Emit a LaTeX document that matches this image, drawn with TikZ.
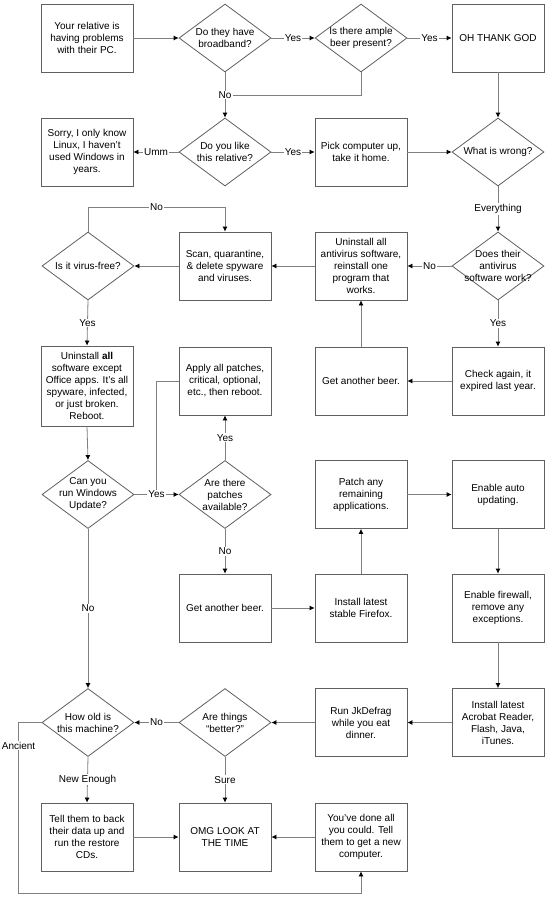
\documentclass[tikz,border=0pt]{standalone}
\usepackage{fontspec}
\setmainfont{Liberation Sans}
\usetikzlibrary{shapes.geometric,arrows.meta}
\definecolor{boxc}{RGB}{96,96,96}
\definecolor{linec}{RGB}{128,128,128}
\begin{document}
\begin{tikzpicture}[x=1pt,y=-1pt,
 every node/.style={font=\fontsize{10}{12}\selectfont},
 proc/.style={draw=boxc,line width=0.8pt,minimum width=92pt,minimum height=68pt,inner sep=0pt,align=center,fill=white},
 dec/.style={draw=boxc,line width=0.8pt,diamond,minimum width=92pt,minimum height=68pt,inner sep=0pt,fill=white},
 txt/.style={align=center,inner sep=0pt},
 conn/.style={draw=linec,line width=0.8pt,-{Latex[length=5pt,width=5pt,color=black]}},
 plain/.style={draw=linec,line width=0.8pt},
 lbl/.style={fill=white,inner sep=1pt}]
\fill[white] (0,0) rectangle (550,900);
\useasboundingbox (0,0) rectangle (550,900);
% row 1
\node[proc] (start) at (87,38) {Your relative is\\having problems\\with their PC.};
\node[dec,label={[txt]center:{Do they have\\broadband?}}] (bb) at (225,38) {};
\node[dec,label={[txt]center:{Is there ample\\beer present?}}] (beer) at (361,38) {};
\node[proc] (thank) at (498,38) {OH THANK GOD};
% row 2
\node[proc] (sorry) at (87,152) {Sorry, I only know\\Linux, I haven't\\used Windows in\\years.};
\node[dec,label={[txt]center:{Do you like\\this relative?}}] (like) at (225,152) {};
\node[proc] (pick) at (361,152) {Pick computer up,\\take it home.};
\node[dec,label={[txt]center:{What is wrong?}}] (wrong) at (498,152) {};
% row 3
\node[dec,label={[txt]center:{Is it virus-free?}}] (virus) at (88,266) {};
\node[proc] (scan) at (225,266) {Scan, quarantine,\\\& delete spyware\\and viruses.};
\node[proc] (uav) at (361,266) {Uninstall all\\antivirus software,\\reinstall one\\program that\\works.};
\node[dec,label={[txt]center:{Does their\\antivirus\\software work?}}] (av) at (498,266) {};
% row 4
\node[proc,minimum height=80pt] (unall) at (87,386) {Uninstall \textbf{all}\\software except\\Office apps. It's all\\spyware, infected,\\or just broken.\\Reboot.};
\node[proc] (apply) at (225,381) {Apply all patches,\\critical, optional,\\etc., then reboot.};
\node[proc] (beera) at (361,381) {Get another beer.};
\node[proc] (check) at (498,381) {Check again, it\\expired last year.};
% row 5
\node[dec,label={[txt]center:{Can you\\run Windows\\Update?}}] (canrun) at (88,494.5) {};
\node[dec,label={[txt]center:{Are there\\patches\\available?}}] (patches) at (225,494.5) {};
\node[proc] (patchany) at (361,494.5) {Patch any\\remaining\\applications.};
\node[proc] (autoupd) at (498,494.5) {Enable auto\\updating.};
% row 6
\node[proc] (beerb) at (225,608) {Get another beer.};
\node[proc] (firefox) at (361,608) {Install latest\\stable Firefox.};
\node[proc] (firewall) at (498,608) {Enable firewall,\\remove any\\exceptions.};
% row 7
\node[dec,label={[txt]center:{How old is\\this machine?}}] (howold) at (88,722.5) {};
\node[dec,label={[txt]center:{Are things\\``better?''}}] (better) at (225,722.5) {};
\node[proc] (defrag) at (361,722.5) {Run JkDefrag\\while you eat\\dinner.};
\node[proc] (acrobat) at (498,722.5) {Install latest\\Acrobat Reader,\\Flash, Java,\\iTunes.};
% row 8
\node[proc] (tell) at (87,837) {Tell them to back\\their data up and\\run the restore\\CDs.};
\node[proc] (omg) at (225,837) {OMG LOOK AT\\THE TIME};
\node[proc] (done) at (361,837) {You've done all\\you could. Tell\\them to get a new\\computer.};
% connectors
\draw[conn] (start.east) -- (bb.west);
\draw[conn] (bb.east) -- node[lbl]{Yes} (beer.west);
\draw[conn] (beer.east) -- node[lbl]{Yes} (thank.west);
\draw[conn] (bb.south) -- node[lbl] (nolbl) {No} (like.north);
\draw[plain] (beer.south) |- (nolbl.east);
\draw[conn] (like.west) -- node[lbl]{Umm} (sorry.east);
\draw[conn] (like.east) -- node[lbl]{Yes} (pick.west);
\draw[conn] (pick.east) -- (wrong.west);
\draw[conn] (thank.south) -- (wrong.north);
\draw[conn] (wrong.south) -- node[lbl]{Everything} (av.north);
\draw[conn] (av.west) -- node[lbl]{No} (uav.east);
\draw[conn] (av.south) -- node[lbl]{Yes} (check.north);
\draw[conn] (check.west) -- (beera.east);
\draw[conn] (beera.north) -- (uav.south);
\draw[conn] (uav.west) -- (scan.east);
\draw[conn] (scan.west) -- (virus.east);
\draw[conn] (virus.north) -- ++(0,-24) -| node[lbl,pos=0.25]{No} (scan.north);
\draw[conn] (virus.south) -- node[lbl]{Yes} (unall.north);
\draw[conn] (unall.south) -- (canrun.north);
\draw[conn] (canrun.east) -- node[lbl] (yes2) {Yes} (patches.west);
\draw[plain] (apply.west) -| (yes2.north);
\draw[conn] (patches.north) -- node[lbl]{Yes} (apply.south);
\draw[conn] (patches.south) -- node[lbl]{No} (beerb.north);
\draw[conn] (canrun.south) -- node[lbl]{No} (howold.north);
\draw[conn] (beerb.east) -- (firefox.west);
\draw[conn] (firefox.north) -- (patchany.south);
\draw[conn] (patchany.east) -- (autoupd.west);
\draw[conn] (autoupd.south) -- (firewall.north);
\draw[conn] (firewall.south) -- (acrobat.north);
\draw[conn] (acrobat.west) -- (defrag.east);
\draw[conn] (defrag.west) -- (better.east);
\draw[conn] (better.west) -- node[lbl]{No} (howold.east);
\draw[conn] (better.south) -- node[lbl]{Sure} (omg.north);
\draw[conn] (howold.south) -- node[lbl]{New Enough} (tell.north);
\draw[conn] (tell.east) -- (omg.west);
\draw[conn] (done.west) -- (omg.east);
\draw[conn] (howold.west) -- ++(-23,0) -- node[lbl]{Ancient} ++(0,46) |- ([yshift=-22pt]done.south) -- (done.south);
\end{tikzpicture}
\end{document}
